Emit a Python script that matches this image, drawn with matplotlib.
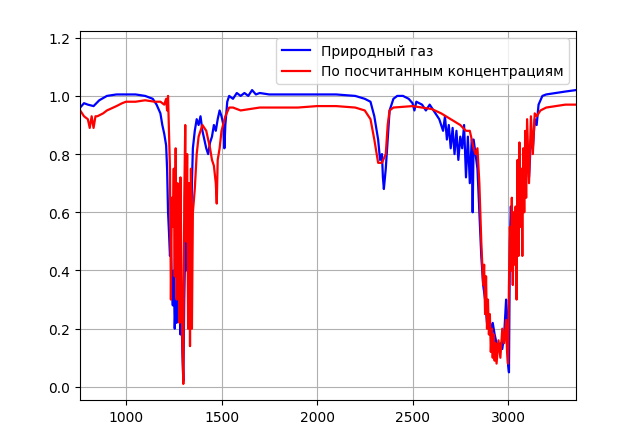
import matplotlib.pyplot as plt

gas_x = [760, 780, 800, 830, 860, 900, 950, 1000, 1050, 1100, 1140, 1160, 1180, 1190, 1200, 1210, 1215,
         1220, 1225, 1230, 1235, 1240, 1245, 1250, 1255, 1260, 1265, 1270, 1275, 1280, 1285, 1290, 1295,
         1300, 1305, 1310, 1315, 1320, 1330, 1340, 1345, 1350, 1360, 1370, 1380, 1390, 1400, 1410, 1420,
         1430, 1440, 1450, 1460, 1470, 1480, 1490, 1500, 1510, 1515, 1520, 1530, 1540, 1560, 1580, 1600,
         1620, 1640, 1660, 1680, 1700, 1750, 1800, 1900, 2000, 2100, 2200, 2250, 2280, 2300, 2320, 2330,
         2340, 2345, 2350, 2360, 2370, 2380, 2400, 2420, 2450, 2480, 2500, 2510, 2520, 2550, 2570, 2590,
         2600, 2620, 2640, 2660, 2670, 2680, 2690, 2700, 2710, 2720, 2730, 2740, 2750, 2760, 2770, 2780,
         2790, 2800, 2810, 2815, 2820, 2830, 2840, 2850, 2860, 2870, 2880, 2890, 2900, 2910, 2920, 2930,
         2940, 2950, 2960, 2970, 2980, 2990, 2995, 3000, 3005, 3010, 3015, 3020, 3030, 3040, 3050, 3060,
         3070, 3080, 3090, 3100, 3110, 3120, 3130, 3140, 3150, 3160, 3180, 3200, 3250, 3300, 3356]
gas_y = [0.96, 0.975, 0.97, 0.965, 0.985, 1.0, 1.005, 1.005, 1.005, 1.0, 0.99, 0.97, 0.94, 0.9, 0.87, 0.83, 0.75,
         0.6, 0.53, 0.45, 0.5, 0.35, 0.28, 0.4, 0.2, 0.3, 0.22, 0.35, 0.25, 0.32, 0.18, 0.28, 0.12,
         0.02, 0.3, 0.5, 0.4, 0.6, 0.55, 0.5, 0.7, 0.82, 0.88, 0.92, 0.9, 0.93, 0.88, 0.85, 0.82,
         0.8, 0.84, 0.86, 0.9, 0.88, 0.92, 0.95, 0.93, 0.9, 0.82, 0.9, 0.98, 1.0, 0.99, 1.01, 1.0,
         1.01, 1.0, 1.02, 1.005, 1.01, 1.005, 1.005, 1.005, 1.005, 1.005, 1.0, 0.99, 0.98, 0.93, 0.85, 0.78,
         0.8, 0.72, 0.68, 0.75, 0.85, 0.95, 0.99, 1.0, 1.0, 0.99, 0.975, 0.95, 0.98, 0.97, 0.95, 0.97,
         0.96, 0.94, 0.92, 0.88, 0.93, 0.85, 0.9, 0.82, 0.89, 0.8, 0.88, 0.78, 0.86, 0.82, 0.9, 0.72,
         0.86, 0.7, 0.85, 0.6, 0.85, 0.8, 0.75, 0.6, 0.45, 0.35, 0.3, 0.22, 0.24, 0.2, 0.22, 0.18,
         0.15, 0.14, 0.15, 0.13, 0.18, 0.3, 0.25, 0.08, 0.05, 0.5, 0.62, 0.55, 0.5, 0.6, 0.55, 0.72,
         0.6, 0.75, 0.7, 0.8, 0.72, 0.85, 0.82, 0.92, 0.9, 0.97, 1.0, 1.005, 1.01, 1.015, 1.02]

calc_x = [760, 780, 800, 810, 820, 830, 840, 850, 880, 900, 950, 980, 1000, 1050, 1100, 1150, 1180, 1200,
          1210, 1215, 1220, 1225, 1230, 1235, 1240, 1245, 1250, 1255, 1260, 1265, 1270, 1275, 1280, 1285,
          1290, 1295, 1300, 1305, 1310, 1315, 1320, 1325, 1330, 1335, 1340, 1345, 1350, 1360, 1370, 1380,
          1400, 1420, 1440, 1450, 1460, 1470, 1475, 1480, 1490, 1500, 1520, 1540, 1560, 1600, 1700, 1800,
          1900, 2000, 2100, 2200, 2250, 2280, 2300, 2320, 2340, 2360, 2370, 2380, 2400, 2500, 2600, 2650,
          2700, 2750, 2780, 2800, 2810, 2820, 2830, 2840, 2850, 2860, 2870, 2875, 2880, 2885, 2890, 2895,
          2900, 2905, 2910, 2915, 2920, 2925, 2930, 2935, 2940, 2950, 2960, 2970, 2980, 2990, 2995, 3000,
          3005, 3010, 3015, 3020, 3025, 3030, 3035, 3040, 3045, 3050, 3055, 3060, 3065, 3070, 3075, 3080,
          3085, 3090, 3095, 3100, 3110, 3120, 3130, 3140, 3150, 3170, 3200, 3300, 3356]
calc_y = [0.95, 0.93, 0.92, 0.89, 0.93, 0.89, 0.93, 0.93, 0.94, 0.95, 0.965, 0.975, 0.98, 0.98, 0.985, 0.98, 0.98, 0.97,
          0.99, 0.95, 1.0, 0.88, 0.75, 0.3, 0.65, 0.55, 0.75, 0.38, 0.82, 0.3, 0.7, 0.55, 0.22, 0.72,
          0.4, 0.15, 0.01, 0.65, 0.9, 0.5, 0.8, 0.2, 0.7, 0.14, 0.75, 0.2, 0.6, 0.68, 0.8, 0.86,
          0.9, 0.88, 0.82, 0.78, 0.76, 0.7, 0.63, 0.78, 0.82, 0.88, 0.93, 0.96, 0.96, 0.95, 0.96, 0.96,
          0.96, 0.965, 0.965, 0.96, 0.95, 0.92, 0.85, 0.77, 0.77, 0.8, 0.9, 0.95, 0.96, 0.965, 0.955, 0.94,
          0.92, 0.9, 0.88, 0.88, 0.85, 0.82, 0.8, 0.82, 0.7, 0.5, 0.35, 0.42, 0.25, 0.38, 0.2, 0.3,
          0.18, 0.25, 0.12, 0.2, 0.1, 0.18, 0.09, 0.15, 0.08, 0.16, 0.1, 0.2, 0.15, 0.23, 0.12, 0.08,
          0.35, 0.55, 0.4, 0.65, 0.35, 0.6, 0.42, 0.62, 0.3, 0.78, 0.45, 0.84, 0.55, 0.75, 0.45, 0.82,
          0.6, 0.88, 0.65, 0.92, 0.7, 0.93, 0.8, 0.94, 0.93, 0.95, 0.96, 0.97, 0.97]

fig, ax = plt.subplots(figsize=(6.4, 4.27), dpi=100)
fig.subplots_adjust(left=0.125, right=0.9, top=0.925, bottom=0.061)
ax.plot(gas_x, gas_y, color="blue", label="Природный газ", lw=1.6)
ax.plot(calc_x, calc_y, color="red", label="По посчитанным концентрациям", lw=1.6)
ax.set_xlim(759, 3356)
ax.set_ylim(-0.045, 1.223)
ax.grid(True)
ax.legend(loc="upper right")
fig.savefig("out.png", dpi=100)
